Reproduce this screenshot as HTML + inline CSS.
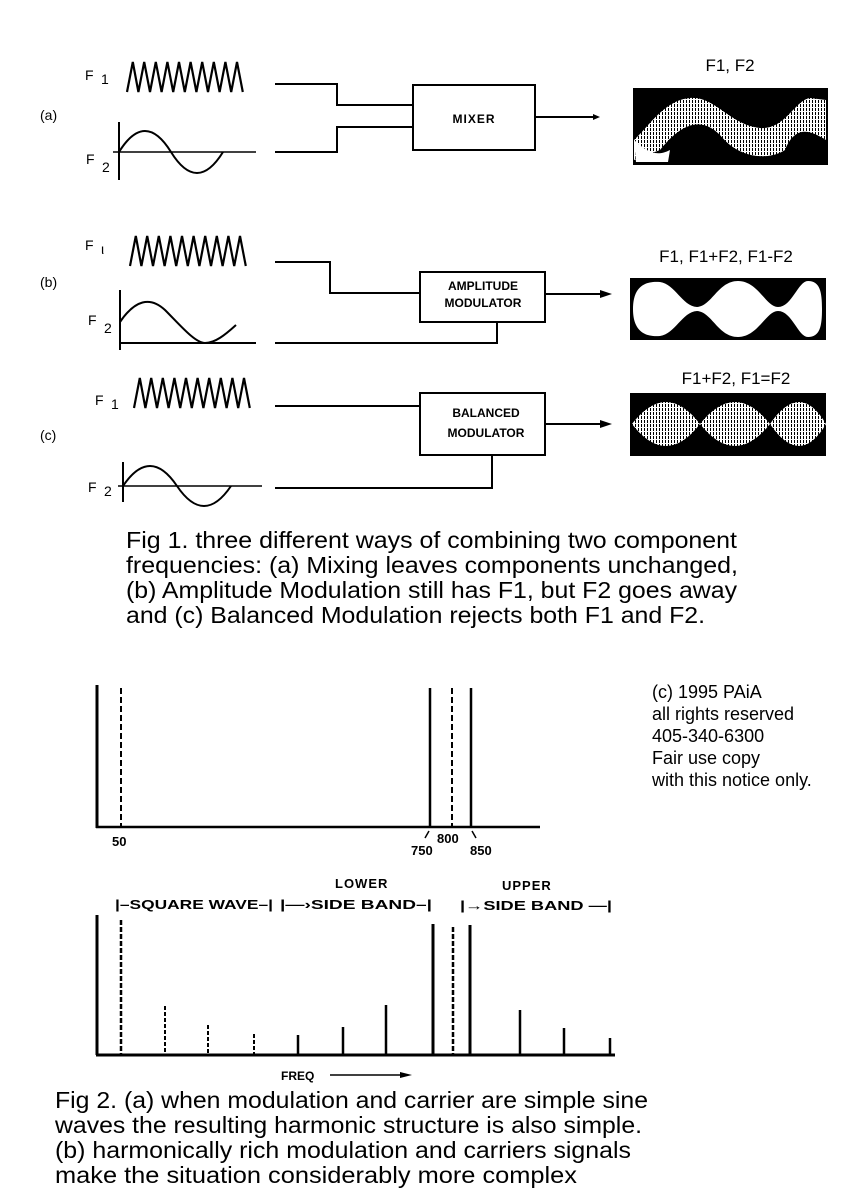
<!DOCTYPE html>
<html><head><meta charset="utf-8"><style>
html,body{margin:0;padding:0;background:#fff;}
svg{display:block;}
text{font-family:"Liberation Sans",sans-serif;fill:#000;}
.serif{font-family:"Liberation Serif",serif;}
.b{font-weight:bold;}
</style></head><body>
<svg width="867" height="1188" viewBox="0 0 867 1188" xmlns="http://www.w3.org/2000/svg">
<defs>
<pattern id="st" width="3" height="4" patternUnits="userSpaceOnUse"><rect width="3" height="4" fill="#fff"/><rect x="2" width="1" height="3" fill="#000"/></pattern>
<polyline id="zz" points="0,30 5.8,0 11.4,30 17.2,0 23,30 28.8,0 34.6,30 40.4,0 46.2,30 52,0 57.8,30 63.6,0 69.4,30 75.2,0 81,30 86.8,0 92.6,30 98.4,0 104.2,30 110,0 115.8,30" fill="none" stroke="#000" stroke-width="2.2"/>
</defs>
<g stroke="#000" fill="none" stroke-width="2">
<use href="#zz" x="127" y="62"/>
<line x1="119" y1="122" x2="119" y2="180"/>
<line x1="113" y1="152" x2="256" y2="152" stroke-width="1.5"/>
<path d="M119,152 Q145,110 171,152 Q197,194 223,152" stroke-width="2"/>
<polyline points="275,84 337,84 337,105 413,105"/>
<polyline points="275,152 337,152 337,127 413,127"/>
<rect x="413" y="85" width="122" height="65"/>
<line x1="535" y1="117" x2="595" y2="117"/>
<use href="#zz" x="130" y="236"/>
<line x1="120" y1="290" x2="120" y2="350"/>
<line x1="120" y1="343" x2="256" y2="343"/>
<path d="M120,322 C135,300 150,296 165,310 C180,325 195,343 205,343 C215,343 225,335 236,325"/>
<polyline points="275,262 330,262 330,293 420,293"/>
<polyline points="275,343 497,343 497,322"/>
<rect x="420" y="272" width="125" height="50"/>
<line x1="545" y1="294" x2="605" y2="294"/>
<use href="#zz" x="134" y="378"/>
<line x1="123" y1="462" x2="123" y2="502"/>
<line x1="118" y1="486" x2="262" y2="486" stroke-width="1.5"/>
<path d="M123,486 Q150,446 177,486 Q204,526 231,486"/>
<polyline points="275,406 420,406"/>
<polyline points="275,488 492,488 492,455"/>
<rect x="420" y="393" width="125" height="62"/>
<line x1="545" y1="424" x2="605" y2="424"/>
</g>
<polygon points="593,114 600,117 593,120" fill="#000"/>
<polygon points="600,290 612,294 600,298" fill="#000"/>
<polygon points="600,420 612,424 600,428" fill="#000"/>
<g class="serif" font-size="14">
<text x="85" y="80">F</text><text x="101" y="84">1</text>
<text x="86" y="164">F</text><text x="102" y="172">2</text>
<text x="40" y="120">(a)</text>
<text x="85" y="250">F</text><text x="101" y="254">ι</text>
<text x="88" y="325">F</text><text x="104" y="333">2</text>
<text x="40" y="287">(b)</text>
<text x="95" y="405">F</text><text x="111" y="409">1</text>
<text x="88" y="492">F</text><text x="104" y="496">2</text>
<text x="40" y="440">(c)</text>
</g>
<g class="b" font-size="12" text-anchor="middle">
<text x="474" y="123" letter-spacing="1">MIXER</text>
<text x="483" y="290">AMPLITUDE</text>
<text x="483" y="307">MODULATOR</text>
<text x="486" y="417">BALANCED</text>
<text x="486" y="437">MODULATOR</text>
</g>
<g font-size="17" text-anchor="middle">
<text x="730" y="71">F1, F2</text>
<text x="726" y="262">F1, F1+F2, F1-F2</text>
<text x="736" y="384">F1+F2, F1=F2</text>
</g>
<rect x="633" y="88" width="195" height="77" fill="#000"/>
<path d="M634,140 C650,125 665,100 690,98 C715,96 730,125 760,128 C785,130 795,100 810,98 L826,100 L826,140 C810,130 795,125 785,150 C770,160 740,160 720,135 C700,115 680,125 660,150 L634,160Z" fill="url(#st)"/>
<path d="M634,140 C645,150 655,158 670,150 L668,162 L636,162Z" fill="#fff"/>
<rect x="630" y="278" width="196" height="62" fill="#000"/>
<path d="M633,309 C633,284 648,281 660,282 C675,284 682,306 697,307 C712,306 718,281 738,281 C758,281 766,307 778,307 C792,307 798,281 808,281 C820,281 822,292 822,309 C822,326 820,337 808,337 C798,337 792,311 778,311 C766,311 758,337 738,337 C718,337 712,312 697,311 C682,312 675,334 660,336 C648,337 633,334 633,309Z" fill="#fff"/>
<rect x="630" y="393" width="196" height="63" fill="#000"/>
<path d="M632,424 Q666,380 700,424 Q735,380 770,424 Q800,380 826,424 Q800,468 770,424 Q735,468 700,424 Q666,468 632,424Z" fill="url(#st)"/>
<g font-size="23">
<text x="126" y="548" textLength="611" lengthAdjust="spacingAndGlyphs">Fig 1. three different ways of combining two component</text>
<text x="126" y="573" textLength="612" lengthAdjust="spacingAndGlyphs">frequencies: (a) Mixing leaves components unchanged,</text>
<text x="126" y="598" textLength="611" lengthAdjust="spacingAndGlyphs">(b) Amplitude Modulation still has F1, but F2 goes away</text>
<text x="126" y="623" textLength="579" lengthAdjust="spacingAndGlyphs">and (c) Balanced Modulation rejects both F1 and F2.</text>
</g>
<g font-size="18">
<text x="652" y="698">(c) 1995 PAiA</text>
<text x="652" y="720">all rights reserved</text>
<text x="652" y="742">405-340-6300</text>
<text x="652" y="764">Fair use copy</text>
<text x="652" y="786">with this notice only.</text>
</g>
<g stroke="#000" fill="none">
<line x1="97" y1="685" x2="97" y2="828" stroke-width="3"/>
<line x1="96" y1="827" x2="540" y2="827" stroke-width="2.5"/>
<line x1="121" y1="688" x2="121" y2="827" stroke-width="2" stroke-dasharray="6,3"/>
<line x1="430" y1="688" x2="430" y2="827" stroke-width="2.5"/>
<line x1="452" y1="688" x2="452" y2="827" stroke-width="2" stroke-dasharray="6,3"/>
<line x1="471" y1="688" x2="471" y2="827" stroke-width="2.5"/>
<line x1="425" y1="838" x2="429" y2="831" stroke-width="1.5"/>
<line x1="472" y1="831" x2="476" y2="838" stroke-width="1.5"/>
</g>
<g class="b" font-size="13">
<text x="112" y="846">50</text>
<text x="411" y="855">750</text>
<text x="437" y="843">800</text>
<text x="470" y="855">850</text>
</g>
<g stroke="#000" fill="none">
<line x1="96" y1="1055" x2="615" y2="1055" stroke-width="3"/>
<line x1="97" y1="915" x2="97" y2="1055" stroke-width="3"/>
<line x1="121" y1="920" x2="121" y2="1055" stroke-width="2.5" stroke-dasharray="5,2"/>
<line x1="433" y1="924" x2="433" y2="1055" stroke-width="3"/>
<line x1="453" y1="927" x2="453" y2="1055" stroke-width="2.5" stroke-dasharray="5,2"/>
<line x1="470" y1="925" x2="470" y2="1055" stroke-width="3"/>
<line x1="165" y1="1006" x2="165" y2="1055" stroke-width="2" stroke-dasharray="4,2"/>
<line x1="208" y1="1025" x2="208" y2="1055" stroke-width="2" stroke-dasharray="4,2"/>
<line x1="254" y1="1034" x2="254" y2="1055" stroke-width="2" stroke-dasharray="4,2"/>
<line x1="298" y1="1035" x2="298" y2="1055" stroke-width="2.5"/>
<line x1="343" y1="1027" x2="343" y2="1055" stroke-width="2.5"/>
<line x1="386" y1="1005" x2="386" y2="1055" stroke-width="2.5"/>
<line x1="520" y1="1010" x2="520" y2="1055" stroke-width="2.5"/>
<line x1="564" y1="1028" x2="564" y2="1055" stroke-width="2.5"/>
<line x1="610" y1="1038" x2="610" y2="1055" stroke-width="2.5"/>
<line x1="330" y1="1075" x2="404" y2="1075" stroke-width="1.5"/>
</g>
<polygon points="400,1072 412,1075 400,1078" fill="#000"/>
<g class="b" font-size="13">
<text x="335" y="888" letter-spacing="1">LOWER</text>
<text x="502" y="890" letter-spacing="1">UPPER</text>
<text x="115" y="909" textLength="158" lengthAdjust="spacingAndGlyphs">|–SQUARE WAVE–|</text>
<text x="280" y="909" textLength="152" lengthAdjust="spacingAndGlyphs">|—›SIDE   BAND–|</text>
<text x="460" y="910" textLength="152" lengthAdjust="spacingAndGlyphs">|→SIDE  BAND —|</text>
<text x="281" y="1080" font-size="12">FREQ</text>
</g>
<g font-size="23">
<text x="55" y="1108" textLength="593" lengthAdjust="spacingAndGlyphs">Fig 2. (a) when modulation and carrier are simple sine</text>
<text x="55" y="1133" textLength="587" lengthAdjust="spacingAndGlyphs">waves the resulting harmonic structure is also simple.</text>
<text x="55" y="1158" textLength="576" lengthAdjust="spacingAndGlyphs">(b) harmonically rich modulation and carriers signals</text>
<text x="55" y="1183" textLength="522" lengthAdjust="spacingAndGlyphs">make the situation considerably more complex</text>
</g>
</svg>
</body></html>
